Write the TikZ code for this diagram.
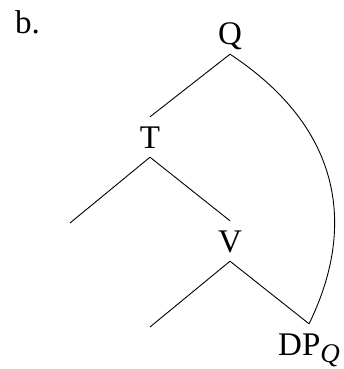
\documentclass[tikz,border=0pt]{standalone}
\usepackage{fontspec}
\setmainfont{Liberation Serif}
\begin{document}
\begin{tikzpicture}[x=1pt,y=-1pt,
  lbl/.style={inner xsep=0pt,inner ysep=9pt,text height=22pt,text depth=0pt,anchor=base,font=\fontsize{33}{40}\selectfont},
  branch/.style={line width=0.9pt}]
\useasboundingbox (0,0) rectangle (344,369);
\node[lbl,anchor=base west] (b) at (15,34) {b.};
\node[lbl] (Q) at (230,45) {Q};
\node[lbl] (T) at (150,148) {T};
\node[lbl] (V) at (230,252) {V};
\node[lbl,anchor=base west] (DP) at (278,355) {DP\raisebox{-7pt}{\fontsize{27}{27}\selectfont\itshape Q}};
\coordinate (TL) at (70,223);
\coordinate (VL) at (150,327);
\draw[branch] (Q.south) -- (T.north);
\draw[branch] (T.south) -- (TL);
\draw[branch] (T.south) -- (V.north);
\draw[branch] (V.south) -- (VL);
\draw[branch] (V.south) -- (DP.north);
\draw[branch] (Q.south) .. controls (345,130) and (355,230) .. (DP.north);
\end{tikzpicture}
\end{document}
